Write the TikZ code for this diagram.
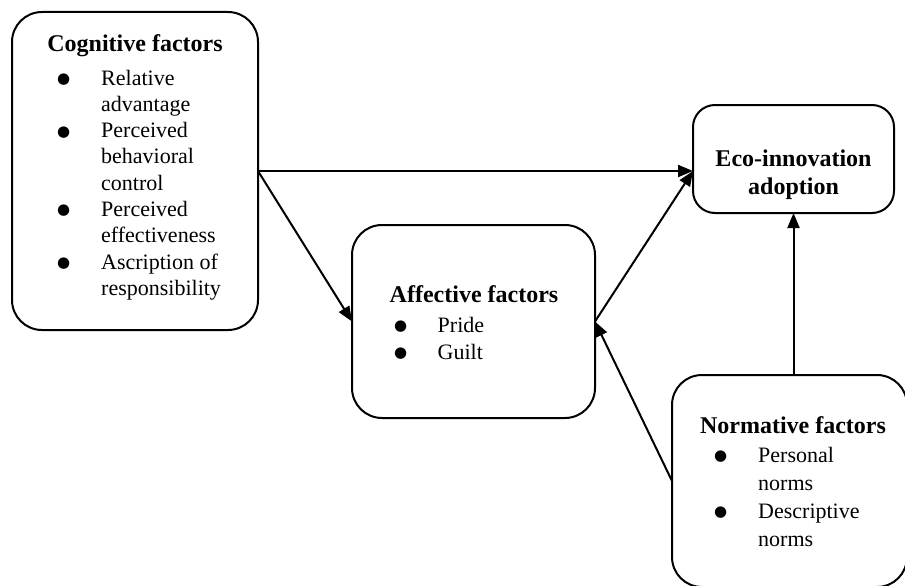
\documentclass[tikz,border=0pt]{standalone}
\usepackage{fontspec}
\setmainfont{Liberation Serif}
\newfontfamily\dotfont{DejaVu Sans}
\usepackage{array}
\usetikzlibrary{arrows.meta}
\hyphenpenalty=10000
\exhyphenpenalty=10000

% round list bullet
\newcommand\bul{\raisebox{1.5pt}{\dotfont\fontsize{15}{15}\selectfont ●}}
% text column of a bullet list, ragged right
\newcolumntype{T}[1]{>{\raggedright\arraybackslash}p{#1}}

\begin{document}
\begin{tikzpicture}[x=1pt,y=-1pt,
  box/.style={draw, line width=2pt, rounded corners=30pt, inner sep=0pt, outer sep=0pt},
  link/.style={line width=2pt, -{Triangle[length=15pt,width=12pt]}},
  title/.style={font=\fontsize{24}{28}\selectfont\bfseries, anchor=base, inner sep=0pt},
  items/.style={font=\fontsize{22}{26.3}\selectfont, anchor=base west, inner sep=0pt}]

\useasboundingbox (0,0) rectangle (905,586);

% boxes
\node[box, minimum width=246pt, minimum height=318pt] (cog) at (135,171) {};
\node[box, minimum width=243pt, minimum height=193pt] (aff) at (473.5,321.5) {};
\node[box, rounded corners=22pt, minimum width=201pt, minimum height=108pt] (eco) at (793.5,159) {};
\node[box, minimum width=235pt, minimum height=212pt] (norm) at (789.5,481) {};

% cognitive factors
\node[title] (cogT) at (135,52) {Cognitive factors};
\node[items] (cogL) at (57,85) {\begin{tabular}[t]{@{}p{44pt}@{}T{130pt}@{}}
  \bul & Relative advantage\\
  \bul & Perceived behavioral control\\
  \bul & Perceived effectiveness\\
  \bul & Ascription of responsibility
\end{tabular}};

% affective factors
\node[title] (affT) at (474,302) {Affective factors};
\node[items, font=\fontsize{22}{27}\selectfont] (affL) at (394,332) {\begin{tabular}[t]{@{}p{43.5pt}@{}T{120pt}@{}}
  \bul & Pride\\
  \bul & Guilt
\end{tabular}};

% eco-innovation adoption
\node[title, anchor=center, align=center] (ecoT) at (793.5,175) {Eco-innovation\\adoption};

% normative factors
\node[title] (normT) at (793,433) {Normative factors};
\node[items, font=\fontsize{22}{28}\selectfont] (normL) at (714,462) {\begin{tabular}[t]{@{}p{44pt}@{}T{112pt}@{}}
  \bul & Personal norms\\
  \bul & Descriptive norms
\end{tabular}};

% connectors
\draw[link] (cog.east) -- (cog.east -| eco.west);
\draw[link] (cog.east) -- (aff.west);
\draw[link] (aff.east) -- (cog.east -| eco.west);
\draw[link] (norm.west) -- (aff.east);
\draw[link] (eco.south |- norm.north) -- (eco.south);
\end{tikzpicture}
\end{document}
